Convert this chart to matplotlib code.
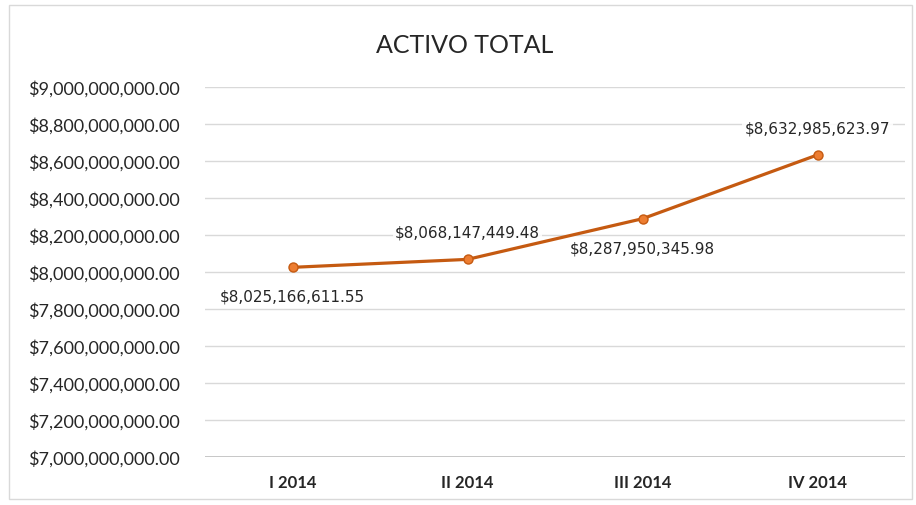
import matplotlib
matplotlib.use("Agg")
import matplotlib.pyplot as plt
from matplotlib.patches import Rectangle
from matplotlib.ticker import FuncFormatter

plt.rcParams['font.family'] = ['Lato', 'DejaVu Sans']

# data
quarters = ["I 2014", "II 2014", "III 2014", "IV 2014"]
activo = [8025166611.55, 8068147449.48, 8287950345.98, 8632985623.97]
label_above = [False, True, False, True]

line_color = "#C55A11"

fig = plt.figure(figsize=(9.16, 5.06), dpi=100)
ax = fig.add_axes([0.2238, 0.0949, 0.7642, 0.7312])

x = list(range(len(quarters)))
ax.plot(x, activo, color=line_color, linewidth=2.3, marker="o",
        markersize=6.5, markerfacecolor="#ED7D31", markeredgecolor=line_color,
        zorder=3)

# data labels sit under the line so the box never hides it
for xi, v, up in zip(x, activo, label_above):
    off = 19.5 if up else -21
    ax.annotate(f"${v:,.2f}", (xi, v), xytext=(0, off), textcoords="offset points",
                ha="center", va="center", fontsize=11, color="#262626",
                family="DejaVu Sans", zorder=2,
                bbox=dict(boxstyle="square,pad=0.15", fc="white", ec="none", alpha=0.85))

ax.set_xlim(-0.5, 3.5)
ax.set_ylim(7e9, 9e9)
ax.set_yticks([7e9 + i * 2e8 for i in range(11)])
ax.yaxis.set_major_formatter(FuncFormatter(lambda v, p: f"${v:,.2f}"))
ax.set_xticks(x)
ax.set_xticklabels(quarters, fontweight="bold")

ax.grid(axis="y", color="#D9D9D9", linewidth=1)
ax.axhline(7e9, color="#BFBFBF", linewidth=1.2, zorder=1)
ax.set_axisbelow(True)
for s in ax.spines.values():
    s.set_visible(False)
ax.tick_params(axis="y", length=0, pad=18, labelsize=13, labelcolor="#262626")
ax.tick_params(axis="x", length=0, pad=12, labelsize=12, labelcolor="#262626")

fig.text(0.507, 0.91, "ACTIVO TOTAL", ha="center", va="center", fontsize=18,
         color="#262626")

fig.patches.append(Rectangle((9 / 916, 6 / 506), 903 / 916, 494 / 506,
                             transform=fig.transFigure, fill=False,
                             edgecolor="#D9D9D9", linewidth=1))

fig.savefig("out.png", dpi=100)
